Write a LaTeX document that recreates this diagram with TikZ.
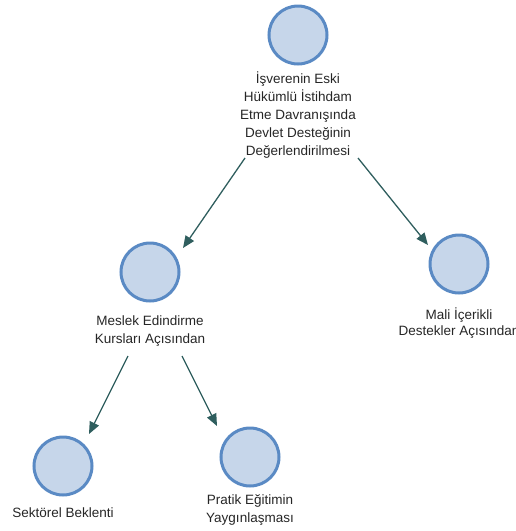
\documentclass[tikz,border=0pt]{standalone}
\usepackage{fontspec}
\setmainfont{Liberation Sans}
\usetikzlibrary{arrows.meta}
\definecolor{circfill}{HTML}{C6D6EA}
\definecolor{circline}{HTML}{5A8AC4}
\definecolor{arrcol}{HTML}{2F5E5E}
\tikzset{
  circ/.style={circle, draw=circline, fill=circfill, line width=3pt, minimum size=58pt, inner sep=0pt},
  lbl/.style={align=center, font=\fontsize{13.5}{18}\selectfont, text=black!85, inner sep=0pt},
  arr/.style={draw=arrcol, line width=1.3pt, -{Triangle[length=12pt,width=10pt]}}
}
\begin{document}
\begin{tikzpicture}[x=1pt,y=-1pt]
\useasboundingbox (0,0) rectangle (516,531);
% nodes
\node[circ] (c0) at (298,35) {};
\node[lbl] (t0) at (298,115) {İşverenin Eski\\Hükümlü İstihdam\\Etme Davranışında\\Devlet Desteğinin\\Değerlendirilmesi};
\node[circ] (c1) at (150,272) {};
\node[lbl] (t1) at (150,331) {Meslek Edindirme\\Kursları Açısından};
\node[circ] (c2) at (459,264) {};
\node[lbl, font=\fontsize{13.5}{16}\selectfont] (t2) at (459,323) {Mali İçerikli\\Destekler Açısından};
\node[circ] (c3) at (63,466) {};
\node[lbl] (t3) at (63,513) {Sektörel Beklenti};
\node[circ] (c4) at (250,457) {};
\node[lbl] (t4) at (250,510) {Pratik Eğitimin\\Yaygınlaşması};
% connector end points
\coordinate (a0s) at (245,158);
\coordinate (a0e) at (183,248);
\coordinate (a1s) at (358,158);
\coordinate (a1e) at (428,245);
\coordinate (a2s) at (128,356);
\coordinate (a2e) at (89,434);
\coordinate (a3s) at (182,356);
\coordinate (a3e) at (217,426);
\draw[arr] (a0s) -- (a0e);
\draw[arr] (a1s) -- (a1e);
\draw[arr] (a2s) -- (a2e);
\draw[arr] (a3s) -- (a3e);
\end{tikzpicture}
\end{document}
